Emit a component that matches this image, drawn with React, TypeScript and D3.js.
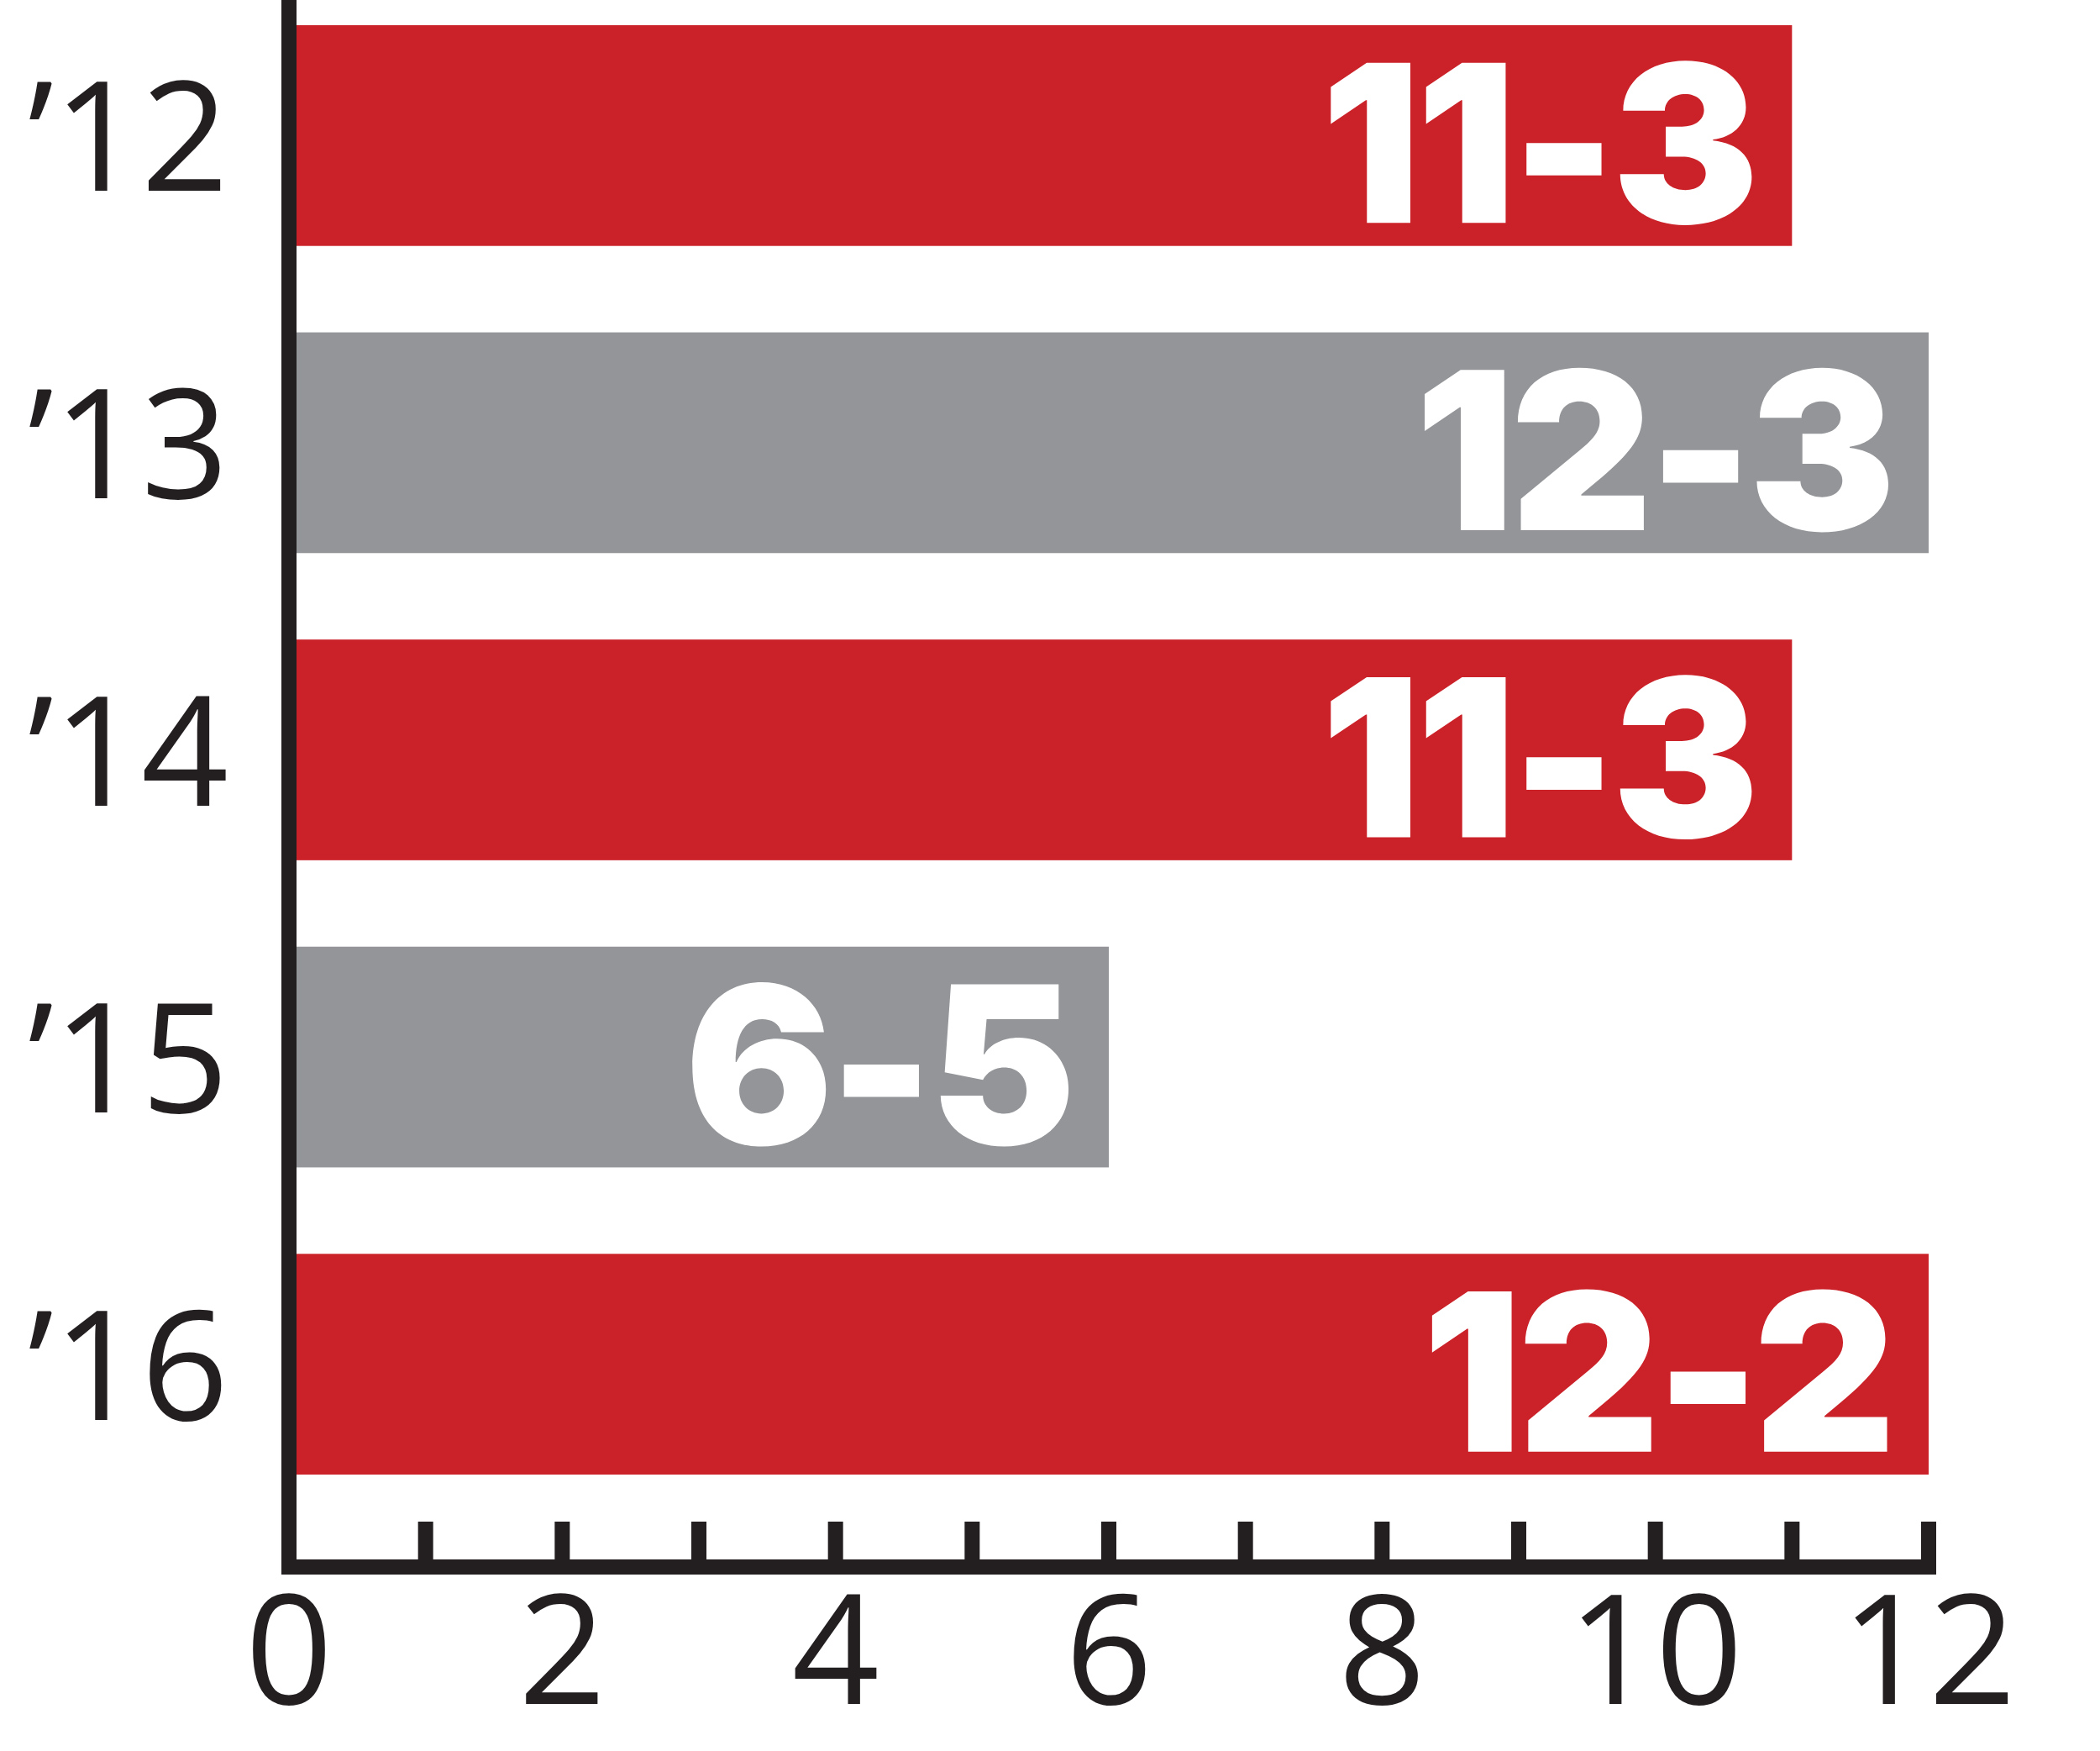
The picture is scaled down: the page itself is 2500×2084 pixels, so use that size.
import React from "react";
import * as d3 from "d3";

const years = ["\u201912", "\u201913", "\u201914", "\u201915", "\u201916"];
const wins = [11, 12, 11, 6, 12];
const losses = [3, 3, 3, 5, 2];
const xTicks = [0, 2, 4, 6, 8, 10, 12];
const minorTicks = d3.range(1, 13);

const RED = "#CB2229";
const GRAY = "#939598";
const INK = "#231F20";

export default function App() {
  const W = 2500;
  const H = 2084;
  const x = d3.scaleLinear().domain([0, 12]).range([344, 2296]);
  const y = d3.scaleBand<string>().domain(years).range([30, 1755]).paddingInner(0.2814).paddingOuter(0);
  const bw = y.bandwidth();
  const axisY = 1865;
  const lw = 18;

  return (
    <svg
      width={W}
      height={H}
      viewBox={`0 0 ${W} ${H}`}
      style={{ position: "absolute", left: 0, top: 0, background: "#fff" }}
    >
      <rect x={0} y={0} width={W} height={H} fill="#fff" />
      {years.map((yr, i) => {
        const y0 = y(yr) as number;
        const cy = y0 + bw / 2;
        return (
          <g key={yr}>
            <rect
              x={x(0)}
              y={y0}
              width={x(wins[i]) - x(0)}
              height={bw}
              fill={i % 2 === 0 ? RED : GRAY}
            />
            <text
              x={x(wins[i]) - 44}
              y={cy + 104}
              textAnchor="end"
              fill="#fff"
              fontFamily="Inter, Roboto, Lato, sans-serif"
              fontWeight={900}
              fontSize={262}
              letterSpacing={-5}
            >
              {`${wins[i]}-${losses[i]}`}
            </text>
            <text
              x={272}
              y={cy + 66}
              textAnchor="end"
              fill={INK}
              fontFamily="'Open Sans', 'Noto Sans', sans-serif"
              fontSize={182}
            >
              {yr}
            </text>
          </g>
        );
      })}
      {minorTicks.map((t) => (
        <line
          key={"t" + t}
          x1={x(t)}
          x2={x(t)}
          y1={1811}
          y2={axisY}
          stroke={INK}
          strokeWidth={lw}
        />
      ))}
      <line x1={x(0)} x2={x(0)} y1={0} y2={axisY + lw / 2} stroke={INK} strokeWidth={lw} />
      <line x1={x(0) - lw / 2} x2={x(12) + lw / 2} y1={axisY} y2={axisY} stroke={INK} strokeWidth={lw} />
      {xTicks.map((t) => (
        <text
          key={"l" + t}
          x={x(t)}
          y={2028}
          textAnchor="middle"
          fill={INK}
          fontFamily="'Open Sans', 'Noto Sans', sans-serif"
          fontSize={182}
        >
          {t}
        </text>
      ))}
    </svg>
  );
}
